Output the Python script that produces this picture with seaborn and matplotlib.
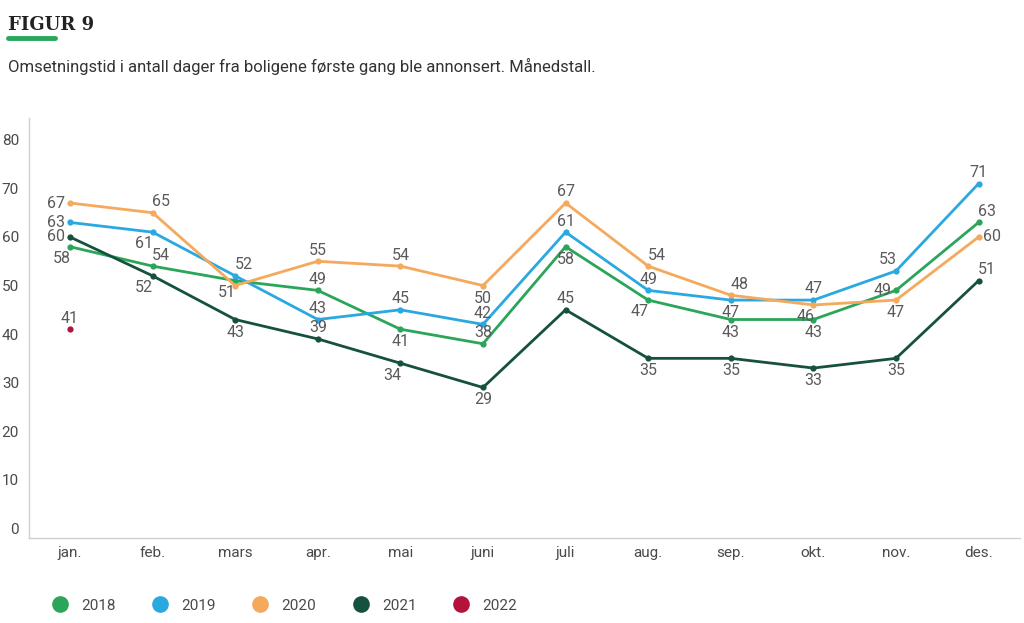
import numpy as np
import pandas as pd
import matplotlib.pyplot as plt
import seaborn as sns
from matplotlib.lines import Line2D

# values
months = ["jan.", "feb.", "mars", "apr.", "mai", "juni", "juli", "aug.", "sep.", "okt.", "nov.", "des."]
y2018 = [58, 54, 51, 49, 41, 38, 58, 47, 43, 43, 49, 63]
y2019 = [63, 61, 52, 43, 45, 42, 61, 49, 47, 47, 53, 71]
y2020 = [67, 65, 50, 55, 54, 50, 67, 54, 48, 46, 47, 60]
y2021 = [60, 52, 43, 39, 34, 29, 45, 35, 35, 33, 35, 51]
y2022 = [41]

years = ["2018", "2019", "2020", "2021", "2022"]
colors = {"2018": "#2aa55a", "2019": "#2aa8e0", "2020": "#f4a95c",
          "2021": "#15513e", "2022": "#b3123b"}

series = {"2018": y2018, "2019": y2019, "2020": y2020, "2021": y2021, "2022": y2022}

rows = []
for yr, vals in series.items():
    for i, v in enumerate(vals):
        rows.append({"month": i, "value": v, "year": yr})
df = pd.DataFrame(rows)

# where each value label goes relative to its point (None = hidden in the original)
place = {
    "2018": ["bl", "ar", "bl", "a", "b", "a", "b", "bl", "b", "b", "l", "ar"],
    "2019": ["l", "bl", "ar", "a", "a", "a", "a", "a", "b", "a", "al", "a"],
    "2020": ["l", "ar", None, "a", "a", "b", "a", "ar", "ar", "bl", "b", "r"],
    "2021": ["l", "bl", "b", "a", "bl", "b", "a", "b", "b", "b", "b", "ar"],
    "2022": ["a"],
}
offs = {"a": (0, 8), "b": (0, -9), "l": (-10, 0), "r": (10, 0),
        "ar": (6, 8), "al": (-6, 8), "bl": (-6, -8.5), "br": (6, -8.5)}

sns.set_style("white")
plt.rcParams["font.family"] = ["Roboto", "DejaVu Sans"]

fig = plt.figure(figsize=(10.24, 6.23), dpi=100)
ax = fig.add_axes([0.028, 0.1365, 0.968, 0.674])

sns.lineplot(data=df, x="month", y="value", hue="year", palette=colors,
             marker="o", markersize=4.5, markeredgewidth=0, linewidth=2,
             legend=False, ax=ax)

for yr, vals in series.items():
    for i, v in enumerate(vals):
        p = place[yr][i]
        if p is None:
            continue
        dx, dy = offs[p]
        ax.annotate(str(v), (i, v), xytext=(dx, dy), textcoords="offset points",
                    ha="center", va="center", fontsize=11.5, color="#5a5a5a")

ax.set_xlim(-0.5, 11.5)
ax.set_ylim(-2, 84.5)
ax.set_yticks(range(0, 81, 10))
ax.set_xticks(range(12))
ax.set_xticklabels(months)
ax.set_xlabel("")
ax.set_ylabel("")
ax.tick_params(axis="both", length=0, labelsize=11, colors="#4a4a4a")
ax.tick_params(axis="y", pad=7)
ax.tick_params(axis="x", pad=6)
for s in ["top", "right"]:
    ax.spines[s].set_visible(False)
for s in ["left", "bottom"]:
    ax.spines[s].set_color("#d0d0d0")
    ax.spines[s].set_linewidth(1)

fig.text(0.008, 0.975, "FIGUR 9", fontsize=13, fontweight="bold",
         family=["DejaVu Serif"], color="#222222", va="top")
fig.add_artist(Line2D([0.008, 0.054], [0.939, 0.939], color="#2aa55a", linewidth=3.5))
fig.text(0.008, 0.893, "Omsetningstid i antall dager fra boligene første gang ble annonsert. Månedstall.",
         fontsize=12, color="#333333", va="center")

handles = [Line2D([], [], marker="o", linestyle="", markersize=12,
                  markerfacecolor=colors[y], markeredgewidth=0) for y in years]
fig.legend(handles, years, loc="center left", bbox_to_anchor=(0.03, 0.028),
           ncol=5, frameon=False, fontsize=11, handletextpad=0.4, columnspacing=1.9,
           labelcolor="#4a4a4a")

fig.savefig("out.png", dpi=100)
